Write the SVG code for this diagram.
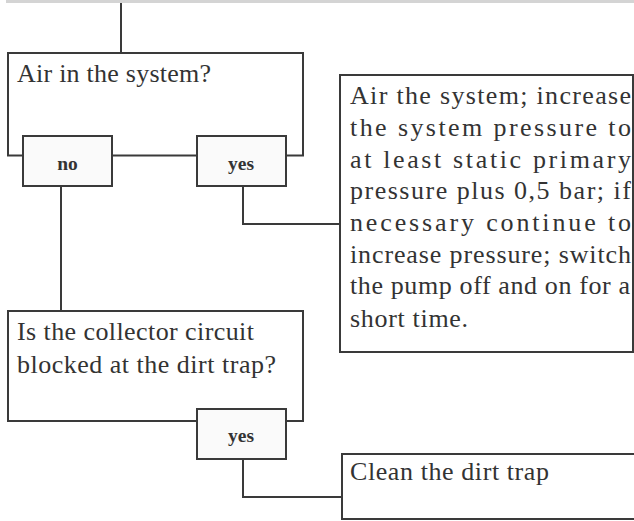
<svg xmlns="http://www.w3.org/2000/svg" width="634" height="521" viewBox="0 0 634 521">
<style>
.box{fill:#ffffff;stroke:#3a3a3a;stroke-width:2}
.lbl{fill:#fafafa;stroke:#3a3a3a;stroke-width:2}
.con{fill:none;stroke:#3a3a3a;stroke-width:2}
.t{font-family:"Liberation Serif","Times New Roman",serif;font-size:26px;fill:#333333}
.b{font-family:"Liberation Serif","Times New Roman",serif;font-size:19.5px;font-weight:bold;fill:#333333;text-anchor:middle}
</style>
<rect x="6" y="0" width="628" height="3" fill="#d4d4d4"/>
<g id="connectors">
<line class="con" x1="121" y1="3" x2="121" y2="53"/>
<line class="con" x1="61" y1="186" x2="61" y2="311"/>
<path class="con" d="M243 186 V224 H340"/>
<path class="con" d="M243 459 V497 H342"/>
</g>
<g id="q1">
<rect class="box" x="8" y="53" width="295" height="102.5"/>
<text class="t" x="17" y="82" textLength="194" lengthAdjust="spacing">Air in the system?</text>
</g>
<g id="q1-no">
<rect class="lbl" x="23" y="136" width="89" height="50"/>
<text class="b" x="67.5" y="170">no</text>
</g>
<g id="q1-yes">
<rect class="lbl" x="197" y="136" width="89" height="50"/>
<text class="b" x="241" y="170">yes</text>
</g>
<g id="action1">
<rect class="box" x="340" y="75" width="293" height="277"/>
<text class="t" x="350" y="104" textLength="281" lengthAdjust="spacing">Air the system; increase</text>
<text class="t" x="350" y="136" textLength="281" lengthAdjust="spacing">the system pressure to</text>
<text class="t" x="350" y="167.5" textLength="281" lengthAdjust="spacing">at least static primary</text>
<text class="t" x="350" y="199" textLength="281" lengthAdjust="spacing">pressure plus 0,5 bar; if</text>
<text class="t" x="350" y="231" textLength="281" lengthAdjust="spacing">necessary continue to</text>
<text class="t" x="350" y="262.5" textLength="281" lengthAdjust="spacing">increase pressure; switch</text>
<text class="t" x="350" y="294" textLength="280" lengthAdjust="spacing">the pump off and on for a</text>
<text class="t" x="350" y="326.5" textLength="118" lengthAdjust="spacing">short time.</text>
</g>
<g id="q2">
<rect class="box" x="8" y="311" width="295" height="110"/>
<text class="t" x="17" y="339.5" textLength="237" lengthAdjust="spacing">Is the collector circuit</text>
<text class="t" x="17" y="372.5" textLength="259" lengthAdjust="spacing">blocked at the dirt trap?</text>
</g>
<g id="q2-yes">
<rect class="lbl" x="197" y="409" width="89" height="50"/>
<text class="b" x="241" y="442">yes</text>
</g>
<g id="action2">
<rect class="box" x="342" y="454" width="320" height="65"/>
<text class="t" x="350" y="480" textLength="199" lengthAdjust="spacing">Clean the dirt trap</text>
</g>
</svg>
